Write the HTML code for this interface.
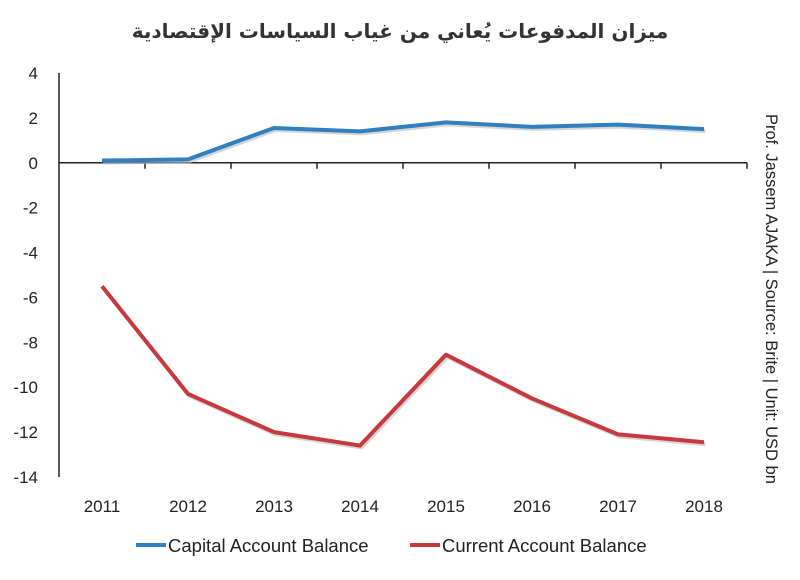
<!DOCTYPE html>
<html><head><meta charset="utf-8"><style>
body{margin:0;background:#fff;}
svg text{font-family:"Liberation Sans","DejaVu Sans",sans-serif;}
</style></head><body>
<svg width="800" height="575" viewBox="0 0 800 575">
<rect width="800" height="575" fill="#fff"/>
<text x="400" y="38" text-anchor="middle" font-size="20" font-weight="bold" fill="#333" style="font-family:'DejaVu Sans','Noto Sans CJK SC',sans-serif">ميزان المدفوعات يُعاني من غياب السياسات الإقتصادية</text>
<g id="axes"></g>
<g id="series"></g>
<text transform="translate(766,114) rotate(90)" font-size="16.5" fill="#222">Prof. Jassem AJAKA | Source: Brite | Unit: USD bn</text>
<g>
<line x1="136" y1="545" x2="166" y2="545" stroke="#2f7fc1" stroke-width="4"/>
<text x="168" y="552" font-size="18.5" fill="#222">Capital Account Balance</text>
<line x1="410" y1="545" x2="440" y2="545" stroke="#c8383f" stroke-width="4"/>
<text x="442" y="552" font-size="18.5" fill="#222">Current Account Balance</text>
</g>
</svg>
<script>
const years=["2011","2012","2013","2014","2015","2016","2017","2018"];
const capital=[0.1,0.15,1.55,1.4,1.8,1.6,1.7,1.5];
const current=[-5.5,-10.3,-12.0,-12.6,-8.55,-10.5,-12.1,-12.45];
const yTicks=[4,2,0,-2,-4,-6,-8,-10,-12,-14];
const NS="http://www.w3.org/2000/svg";
const x0=59,x1=747,yTop=73,yBot=477,vMax=4,vMin=-14;
const bw=(x1-x0)/years.length;
function xs(i){return x0+bw*(i+0.5);}
function ys(v){return yTop+(vMax-v)/(vMax-vMin)*(yBot-yTop);}
function mk(t,a,p){const e=document.createElementNS(NS,t);for(const k in a)e.setAttribute(k,a[k]);p.appendChild(e);return e;}
const ax=document.getElementById('axes'),se=document.getElementById('series');
yTicks.forEach(v=>{const t=mk('text',{x:38,y:ys(v)+6,'text-anchor':'end','font-size':17,fill:'#222'},ax);t.textContent=v;

});
const ya=mk('line',{x1:x0,y1:yTop,x2:x0,y2:yBot,stroke:'#222','stroke-width':1.5},ax);


const xa=mk('line',{x1:x0,y1:ys(0),x2:x1,y2:ys(0),stroke:'#222','stroke-width':1.5},ax);


for(let i=1;i<=years.length;i++){const tk=mk('line',{x1:x0+bw*i,y1:ys(0),x2:x0+bw*i,y2:ys(0)+6,stroke:'#222','stroke-width':1.5},ax);

}
years.forEach((y,i)=>{const t=mk('text',{x:xs(i),y:512,'text-anchor':'middle','font-size':17,fill:'#222'},ax);t.textContent=y;

});
function line(vals,color,name){const pts=vals.map((v,i)=>xs(i)+','+ys(v)).join(' ');
const sh=mk('polyline',{points:vals.map((v,i)=>(xs(i)+1.5)+','+(ys(v)+2)).join(' '),fill:'none',stroke:'#bbb','stroke-width':4,'stroke-linejoin':'round',opacity:0.6},se);


const p=mk('polyline',{points:pts,fill:'none',stroke:color,'stroke-width':4,'stroke-linejoin':'round'},se);

}
line(capital,'#2f7fc1','capital-account-line');
line(current,'#c8383f','current-account-line');
</script>
</body></html>
